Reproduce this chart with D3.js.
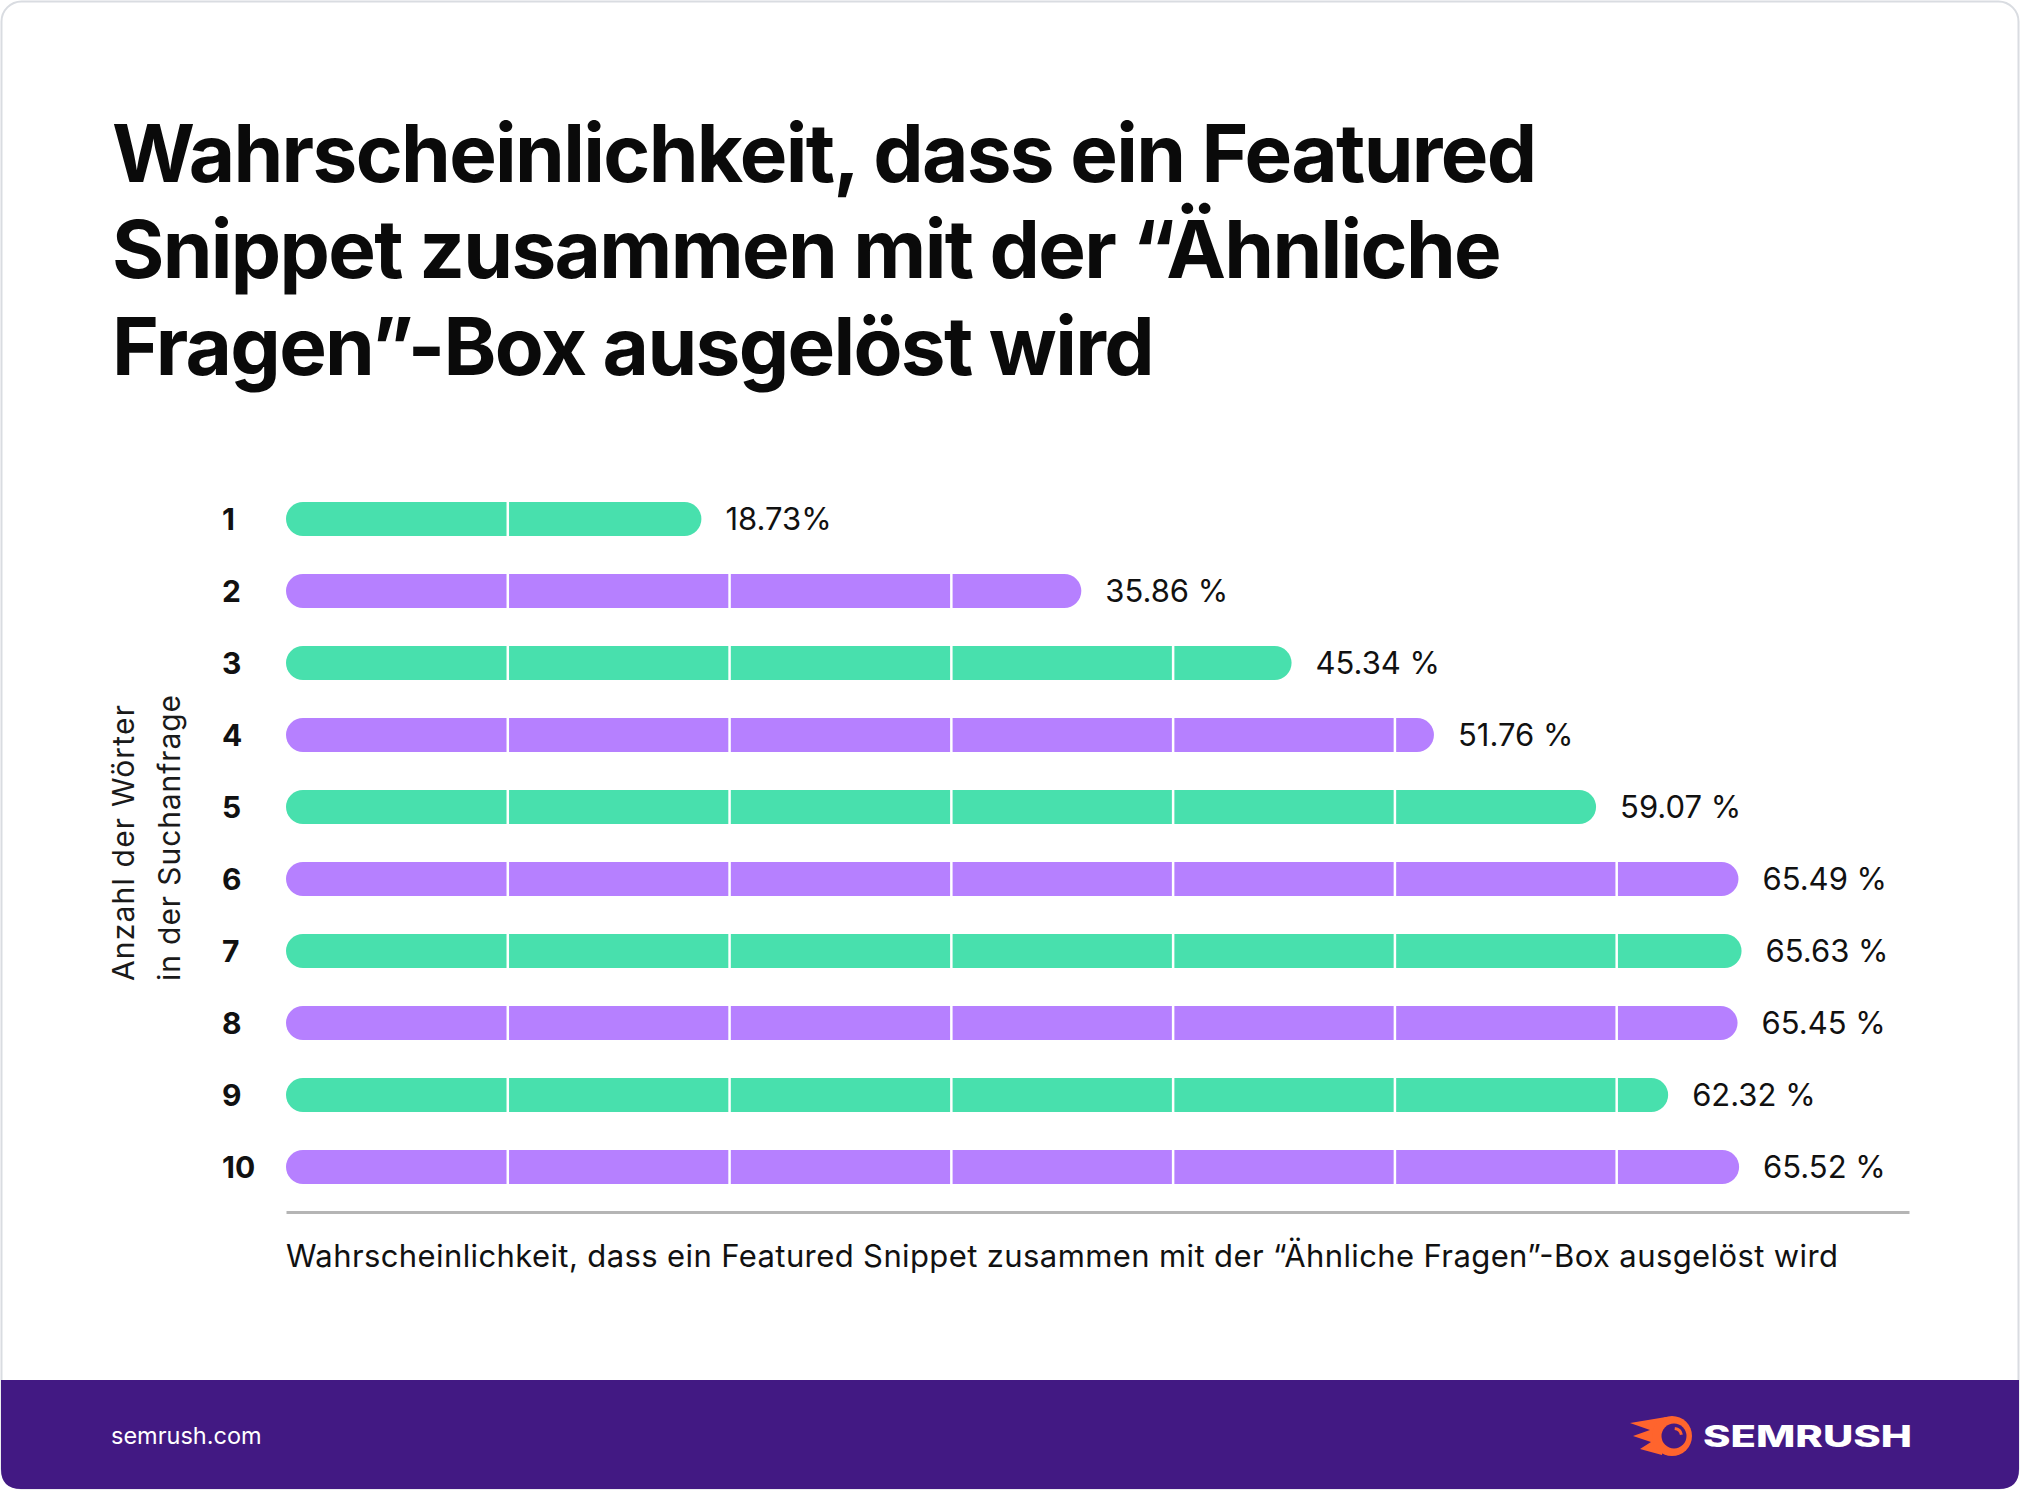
<!DOCTYPE html>
<html>
<head>
<meta charset="utf-8">
<script src="https://cdn.jsdelivr.net/npm/d3@7"></script>
<style>
  html, body { margin: 0; padding: 0; background: #fff; }
  svg { display: block; }
</style>
</head>
<body>
<svg id="chart" width="2020" height="1490"></svg>
<script>
// ---- data ----
const categories = ["1", "2", "3", "4", "5", "6", "7", "8", "9", "10"];
const values = [18.73, 35.86, 45.34, 51.76, 59.07, 65.49, 65.63, 65.45, 62.32, 65.52];
const valueLabels = ["18.73%", "35.86 %", "45.34 %", "51.76 %", "59.07 %", "65.49 %", "65.63 %", "65.45 %", "62.32 %", "65.52 %"];
const gridValues = [10, 20, 30, 40, 50, 60];
const titleLines = [
  "Wahrscheinlichkeit, dass ein Featured",
  "Snippet zusammen mit der “Ähnliche",
  "Fragen”-Box ausgelöst wird"
];
const yTitleLines = ["Anzahl der Wörter", "in der Suchanfrage"];
const xTitle = "Wahrscheinlichkeit, dass ein Featured Snippet zusammen mit der “Ähnliche Fragen”-Box ausgelöst wird";
const footerText = "semrush.com";
const brandText = "SEMRUSH";

// ---- styles ----
const barColors = ["#48E0AD", "#B680FF"];
const purple = "#421983";
const orange = "#FF642D";

const svg = d3.select("#chart");

// card
svg.append("rect")
  .attr("x", 1.5).attr("y", 1.5).attr("width", 2017).attr("height", 1487)
  .attr("rx", 20).attr("fill", "#fff").attr("stroke", "#d9dce1").attr("stroke-width", 2);

// footer band with rounded bottom corners
const fy = 1380, fb = 1489, fl = 1, fr = 2019, r = 20;
svg.append("path")
  .attr("d", `M${fl},${fy} H${fr} V${fb - r} Q${fr},${fb} ${fr - r},${fb} H${fl + r} Q${fl},${fb} ${fl},${fb - r} Z`)
  .attr("fill", purple);

// title
const title = svg.append("g");
const titleBaselines = [182, 278, 375];
titleLines.forEach((t, i) => {
  title.append("text")
    .attr("x", 112).attr("y", titleBaselines[i])
    .attr("font-family", "Inter, 'Noto Sans', sans-serif")
    .attr("font-weight", 700)
    .attr("font-size", 80)
    .attr("fill", "#0a0a0a")
    .text(t);
});
(function fitTitle(){
  const nodes = title.selectAll("text").nodes();
  const w0 = nodes[0].getComputedTextLength();
  const target = 1425;
  const spacing = (target - w0) / (titleLines[0].length - 1);
  title.selectAll("text").attr("letter-spacing", spacing.toFixed(2));
})();

// scales
const x = d3.scaleLinear().domain([0, 73.18]).range([286, 1909]);
const y = d3.scaleBand().domain(categories).range([483, 1203])
  .paddingInner(0.5278).paddingOuter(0.2639);
const bh = y.bandwidth();

// bars (fully rounded ends)
svg.append("g").selectAll("rect").data(categories).join("rect")
  .attr("x", x(0))
  .attr("y", d => y(d))
  .attr("width", (d, i) => x(values[i]) - x(0))
  .attr("height", bh)
  .attr("rx", bh / 2)
  .attr("fill", (d, i) => barColors[i % 2]);

// white gridlines through the bars
svg.append("g").selectAll("line").data(gridValues).join("line")
  .attr("x1", d => x(d)).attr("x2", d => x(d))
  .attr("y1", y.range()[0]).attr("y2", y.range()[1])
  .attr("stroke", "#fff").attr("stroke-width", 2.5);

// value labels
svg.append("g").selectAll("text").data(categories).join("text")
  .attr("x", (d, i) => x(values[i]) + 24)
  .attr("y", d => y(d) + bh / 2)
  .attr("dy", "0.36em")
  .attr("font-family", "Inter, sans-serif")
  .attr("font-size", 31)
  .attr("fill", "#111")
  .text((d, i) => valueLabels[i]);

// category labels
svg.append("g").selectAll("text").data(categories).join("text")
  .attr("x", 222)
  .attr("y", d => y(d) + bh / 2)
  .attr("dy", "0.36em")
  .attr("font-family", "Inter, sans-serif")
  .attr("font-weight", 700)
  .attr("font-size", 30)
  .attr("fill", "#111")
  .text(d => d);

// x axis line
const xAxis = svg.append("g")
  .attr("transform", "translate(0,1212)")
  .call(d3.axisBottom(x).tickValues([]).tickSizeOuter(0));
xAxis.select(".domain").attr("stroke", "#b5b5b5").attr("stroke-width", 3);

// x title
svg.append("text")
  .attr("x", 286).attr("y", 1267)
  .attr("font-family", "Inter, sans-serif")
  .attr("font-size", 31)
  .attr("textLength", 1552)
  .attr("lengthAdjust", "spacing")
  .attr("fill", "#111")
  .text(xTitle);

// y title (rotated)
const yt = svg.append("g");
const yLens = [276, 286];
[134, 180].forEach((bx, i) => {
  yt.append("text")
    .attr("transform", `translate(${bx},981) rotate(-90)`)
    .attr("font-family", "Inter, sans-serif")
    .attr("font-size", 30)
    .attr("textLength", yLens[i])
    .attr("lengthAdjust", "spacing")
    .attr("fill", "#1a1a1a")
    .text(yTitleLines[i]);
});

// footer text
svg.append("text")
  .attr("x", 111).attr("y", 1444)
  .attr("font-family", "Inter, sans-serif")
  .attr("font-size", 23.5)
  .attr("fill", "#fff")
  .text(footerText);

// logo icon
const logo = svg.append("g");
logo.append("path")
  .attr("d", "M1666,1417 L1630,1423 L1650,1430 L1633,1436 L1651,1442 L1640,1449 L1662,1455 Z")
  .attr("fill", orange);
logo.append("circle").attr("cx", 1672).attr("cy", 1436).attr("r", 20).attr("fill", orange);
logo.append("circle").attr("cx", 1674).attr("cy", 1436).attr("r", 12.5).attr("fill", purple);
logo.append("path")
  .attr("d", d3.arc()({innerRadius: 6, outerRadius: 9, startAngle: 0.1, endAngle: 1.4}))
  .attr("transform", "translate(1674,1436)")
  .attr("fill", orange);

// brand text
svg.append("text")
  .attr("x", 1703).attr("y", 1447)
  .attr("font-family", "Inter, sans-serif")
  .attr("font-weight", 800)
  .attr("font-size", 30)
  .attr("textLength", 209)
  .attr("lengthAdjust", "spacingAndGlyphs")
  .attr("fill", "#fff")
  .text(brandText);
</script>
</body>
</html>
